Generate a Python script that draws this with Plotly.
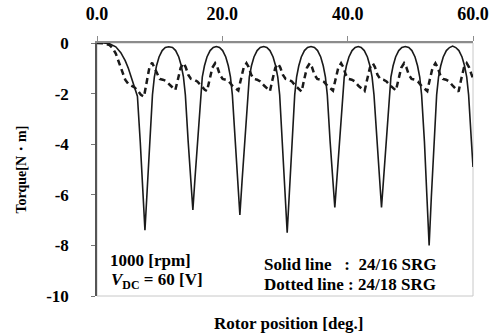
import plotly.graph_objects as go

# ---- data: rotor position [deg] and torque [N·m] ----
solid_x = [0, 1.0, 2.0, 3.0, 3.8, 4.5, 5.0, 5.5, 6.0, 6.45, 6.9, 7.3, 7.65,
           8.0, 8.4, 8.85, 9.15, 9.5, 9.9, 10.4, 10.9, 11.45,
           12.05, 12.55, 13.05, 13.45, 13.8, 14.1, 14.55, 14.95, 15.3,
           15.65, 16.05, 16.5, 16.8, 17.15, 17.55, 18.05, 18.55, 19.05,
           19.55, 20.05, 20.55, 20.95, 21.3, 21.6, 22.05, 22.45, 22.8,
           23.15, 23.55, 24.0, 24.3, 24.65, 25.05, 25.55, 26.05, 26.6,
           27.1, 27.6, 28.1, 28.5, 28.85, 29.15, 29.6, 30.0, 30.35,
           30.7, 31.1, 31.55, 31.85, 32.2, 32.6, 33.1, 33.6, 34.15,
           34.7, 35.2, 35.7, 36.1, 36.45, 36.75, 37.2, 37.6, 37.95,
           38.3, 38.7, 39.15, 39.45, 39.8, 40.2, 40.7, 41.2, 41.7,
           42.15, 42.65, 43.15, 43.55, 43.9, 44.2, 44.65, 45.05, 45.4,
           45.75, 46.15, 46.6, 46.9, 47.25, 47.65, 48.15, 48.65, 49.2,
           49.75, 50.25, 50.75, 51.15, 51.5, 51.8, 52.25, 52.65, 53.0,
           53.35, 53.75, 54.2, 54.5, 54.85, 55.25, 55.75, 56.25, 56.75,
           57.25, 57.75, 58.25, 58.65, 59.0, 59.3, 59.75, 60.0]
solid_y = [0, 0, -0.03, -0.15, -0.38, -0.7, -1.0, -1.4, -1.8, -2.1, -3.9, -5.85, -7.4,
           -5.85, -3.9, -2.05, -1.35, -0.9, -0.55, -0.3, -0.18, -0.15,
           -0.18, -0.3, -0.55, -0.9, -1.35, -2.05, -3.9, -5.3, -6.6,
           -5.3, -3.9, -2.05, -1.35, -0.9, -0.55, -0.3, -0.18, -0.14,
           -0.18, -0.3, -0.55, -0.9, -1.35, -2.05, -3.9, -5.45, -6.8,
           -5.45, -3.9, -2.05, -1.35, -0.9, -0.55, -0.3, -0.18, -0.14,
           -0.18, -0.3, -0.55, -0.9, -1.35, -2.05, -3.9, -5.9, -7.5,
           -5.9, -3.9, -2.05, -1.35, -0.9, -0.55, -0.3, -0.18, -0.14,
           -0.18, -0.3, -0.55, -0.9, -1.35, -2.05, -3.9, -5.3, -6.5,
           -5.3, -3.9, -2.05, -1.35, -0.9, -0.55, -0.3, -0.18, -0.14,
           -0.18, -0.3, -0.55, -0.9, -1.35, -2.05, -3.9, -5.3, -6.5,
           -5.3, -3.9, -2.05, -1.35, -0.9, -0.55, -0.3, -0.18, -0.14,
           -0.18, -0.3, -0.55, -0.9, -1.35, -2.05, -3.9, -6.1, -8.0,
           -6.1, -3.9, -2.05, -1.35, -0.9, -0.55, -0.3, -0.18, -0.12,
           -0.18, -0.3, -0.55, -0.9, -1.35, -2.05, -3.9, -4.9]

dotted_x = [0, 1.0, 2.0, 2.5, 3.0, 3.5, 4.0, 4.5, 5.0, 5.5, 6.0, 6.5, 7.0, 7.5,
            7.9, 8.35, 8.8, 9.15, 9.55, 10.0, 10.5, 11.0, 11.6, 12.2, 12.5,
            12.9, 13.35, 13.8, 14.15, 14.55, 15.0, 15.5, 16.0, 16.6, 17.2, 17.55,
            17.95, 18.4, 18.85, 19.2, 19.6, 20.05, 20.55, 21.05, 21.65, 22.25, 22.55,
            22.95, 23.4, 23.85, 24.2, 24.6, 25.05, 25.55, 26.05, 26.65, 27.25, 27.6,
            28.0, 28.45, 28.9, 29.25, 29.65, 30.1, 30.6, 31.1, 31.7, 32.3, 32.65,
            33.05, 33.5, 33.95, 34.3, 34.7, 35.15, 35.65, 36.15, 36.75, 37.35, 37.65,
            38.05, 38.5, 38.95, 39.3, 39.7, 40.15, 40.65, 41.15, 41.75, 42.35, 42.7,
            43.1, 43.55, 44.0, 44.35, 44.75, 45.2, 45.7, 46.2, 46.8, 47.4, 47.7,
            48.1, 48.55, 49.0, 49.35, 49.75, 50.2, 50.7, 51.2, 51.8, 52.4, 52.7,
            53.1, 53.55, 54.0, 54.35, 54.75, 55.2, 55.7, 56.2, 56.8, 57.4, 57.7,
            58.1, 58.55, 59.0, 59.35, 59.7, 60.0]
dotted_y = [0, -0.01, -0.08, -0.2, -0.42, -0.78, -1.15, -1.45, -1.62, -1.7, -1.76, -1.88, -2.05, -2.12,
            -1.5, -0.98, -0.78, -0.95, -1.2, -1.42, -1.45, -1.5, -1.65, -1.8, -1.86,
            -1.45, -0.98, -0.8, -0.95, -1.25, -1.42, -1.45, -1.52, -1.68, -1.85, -1.9,
            -1.45, -0.98, -0.8, -0.95, -1.25, -1.42, -1.45, -1.52, -1.7, -1.83, -1.88,
            -1.45, -0.98, -0.8, -0.95, -1.25, -1.42, -1.45, -1.52, -1.68, -1.83, -1.9,
            -1.45, -0.98, -0.82, -0.97, -1.25, -1.42, -1.45, -1.52, -1.7, -1.84, -1.92,
            -1.45, -0.98, -0.8, -0.95, -1.25, -1.42, -1.45, -1.52, -1.68, -1.83, -1.88,
            -1.45, -0.98, -0.8, -0.95, -1.25, -1.42, -1.45, -1.52, -1.7, -1.84, -1.9,
            -1.45, -0.98, -0.8, -0.95, -1.25, -1.42, -1.45, -1.52, -1.68, -1.83, -1.88,
            -1.45, -0.98, -0.8, -0.95, -1.25, -1.42, -1.45, -1.52, -1.7, -1.85, -1.9,
            -1.45, -0.98, -0.8, -0.95, -1.25, -1.42, -1.45, -1.52, -1.7, -1.85, -1.92,
            -1.45, -0.98, -0.8, -0.95, -1.2, -1.4]

x_ticks = [0, 20, 40, 60]
x_tick_labels = ["0.0", "20.0", "40.0", "60.0"]
y_ticks = [0, -2, -4, -6, -8, -10]
y_tick_labels = ["0", "-2", "-4", "-6", "-8", "-10"]

FONT = "Liberation Serif, Times New Roman, serif"


def bold(t):
    return "<b>" + t + "</b>"


fig = go.Figure()
fig.add_trace(go.Scatter(x=solid_x, y=solid_y, mode="lines",
                         line=dict(color="#1a1a1a", width=1.6), name="24/16 SRG"))
fig.add_trace(go.Scatter(x=dotted_x, y=dotted_y, mode="lines",
                         line=dict(color="#1a1a1a", width=2.5, dash="6px,4px"), name="24/18 SRG"))

# frame (light right/bottom border)
fig.add_shape(type="rect", xref="paper", yref="paper", x0=0, x1=1, y0=0, y1=1,
              line=dict(color="#c8c8c8", width=1), layer="below")

fig.update_layout(
    width=491, height=334,
    margin=dict(l=97, r=18, t=43, b=38),
    paper_bgcolor="white", plot_bgcolor="white",
    showlegend=False,
    font=dict(family=FONT, size=14, color="black"),
    xaxis=dict(side="top", range=[0, 60], tickvals=x_ticks,
               ticktext=x_tick_labels, automargin=False,
               showgrid=False, zeroline=False, showline=True, linecolor="#8c8c8c", linewidth=1.5,
               ticks="outside", ticklen=5, tickcolor="#8c8c8c", tickwidth=1,
               tickfont=dict(family=FONT, size=18, color="black", weight="bold"),
               ticklabelstandoff=9),
    yaxis=dict(range=[-10, 0], tickvals=y_ticks,
               ticktext=y_tick_labels, automargin=False,
               showgrid=False, zeroline=False, showline=True, linecolor="#555555", linewidth=1.5,
               ticks="outside", ticklen=4, tickcolor="#777777", tickwidth=1,
               tickfont=dict(family=FONT, size=17, color="black", weight="bold"),
               ticklabelstandoff=19),
)

ann = [
    dict(text=bold("Torque[N・m]"), x=-0.202, y=0.5, textangle=-90, size=14),
    dict(text=bold("Rotor position [deg.]"), x=0.51, y=-0.11, size=17),
]
for a in ann:
    fig.add_annotation(text=a["text"], xref="paper", yref="paper", x=a["x"], y=a["y"],
                       textangle=a.get("textangle", 0), showarrow=False,
                       xanchor="center", yanchor="middle",
                       font=dict(family=FONT, size=a["size"], color="black"))

notes = [
    (bold("1000 [rpm]"), 0.028, 0.142),
    (bold("<i>V</i><sub>DC</sub> = 60 [V]"), 0.033, 0.059),
    (bold("Solid line   :  24/16 SRG"), 0.44, 0.126),
    (bold("Dotted line : 24/18 SRG"), 0.44, 0.047),
]
for t, x, y in notes:
    fig.add_annotation(text=t, xref="paper", yref="paper", x=x, y=y, showarrow=False,
                       xanchor="left", yanchor="middle",
                       font=dict(family=FONT, size=17, color="black"))

fig.write_html("out.html")
